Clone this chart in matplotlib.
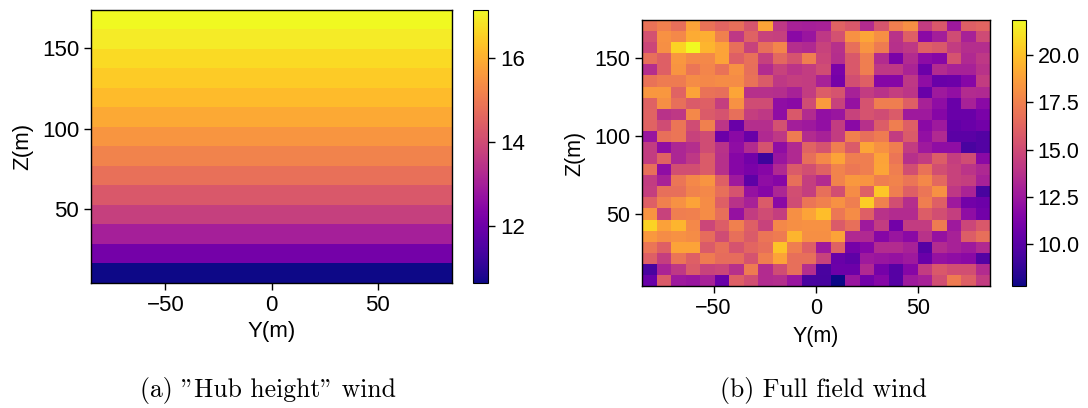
import numpy as np
import matplotlib
matplotlib.use("Agg")
import matplotlib.pyplot as plt

plt.rcParams['font.family'] = ['Liberation Sans', 'DejaVu Sans']

# (a) hub height profile, one value per height band, bottom -> top
hub_wind = [10.65, 12.1, 13.0, 13.75, 14.3, 14.8, 15.2, 15.55, 15.9, 16.2,
            16.45, 16.7, 16.95, 17.16]

# (b) full field, rows listed from top (z high) to bottom, 24 x 24 cells
full_wind_rows = [
    [16.9, 17.5, 16.7, 18.9, 16.9, 16.3, 16.7, 15.5, 19.0, 14.1, 13.0, 12.9, 13.0, 16.2, 15.7, 13.5, 15.5, 17.4, 18.1, 14.3, 15.7, 12.6, 16.0, 16.3],
    [15.3, 18.2, 17.8, 19.2, 19.3, 17.5, 14.1, 16.1, 14.6, 14.5, 11.8, 12.4, 14.1, 15.3, 18.2, 19.0, 18.1, 13.8, 16.0, 11.8, 12.8, 15.1, 13.0, 15.0],
    [14.8, 18.1, 20.6, 21.86, 19.6, 18.9, 16.7, 14.6, 16.7, 17.7, 13.6, 13.4, 14.6, 13.7, 16.7, 18.3, 17.3, 13.7, 14.1, 16.0, 15.7, 14.3, 13.6, 13.6],
    [16.7, 16.0, 18.4, 17.8, 17.8, 18.9, 16.0, 16.8, 14.5, 16.4, 15.4, 17.4, 14.8, 13.6, 15.7, 17.4, 13.5, 11.2, 13.5, 11.9, 11.6, 15.4, 13.4, 14.1],
    [13.6, 16.0, 18.3, 17.0, 17.7, 16.9, 18.2, 16.7, 13.5, 14.6, 13.9, 14.3, 15.1, 11.2, 15.7, 17.4, 14.1, 14.1, 13.1, 10.7, 13.5, 13.0, 13.0, 13.8],
    [16.9, 17.3, 17.3, 18.0, 17.8, 18.0, 18.0, 16.9, 15.8, 14.1, 14.4, 14.3, 13.0, 11.0, 15.2, 16.0, 11.6, 11.6, 14.1, 12.0, 10.6, 10.7, 11.6, 14.3],
    [18.4, 18.4, 16.2, 18.9, 16.9, 16.7, 19.0, 13.7, 13.7, 13.6, 13.0, 14.3, 15.9, 15.4, 13.0, 14.3, 13.8, 14.4, 14.0, 10.6, 12.6, 12.1, 13.5, 13.4],
    [16.1, 18.1, 16.7, 15.8, 16.0, 14.4, 18.2, 15.1, 15.1, 12.0, 11.8, 15.1, 18.6, 14.6, 12.2, 15.4, 17.4, 17.4, 16.0, 13.0, 12.0, 10.6, 13.0, 11.8],
    [16.2, 13.8, 14.1, 17.8, 15.8, 15.4, 16.7, 14.4, 14.1, 12.0, 15.7, 13.5, 12.1, 12.4, 14.6, 15.4, 15.1, 15.8, 12.6, 12.6, 11.6, 10.6, 10.6, 11.2],
    [16.2, 15.1, 17.0, 15.1, 17.5, 14.0, 10.6, 13.6, 13.6, 15.3, 12.8, 12.6, 12.1, 14.3, 11.8, 13.7, 15.9, 17.4, 16.0, 11.8, 12.6, 10.3, 10.6, 10.9],
    [12.4, 16.7, 17.0, 14.6, 15.1, 10.7, 11.8, 10.6, 13.4, 14.1, 17.3, 13.5, 13.0, 14.3, 17.5, 16.7, 17.3, 14.3, 15.8, 12.1, 13.4, 10.1, 10.1, 9.8],
    [14.3, 12.0, 13.2, 13.6, 15.1, 13.8, 12.0, 13.5, 15.4, 12.0, 13.4, 16.2, 15.4, 17.4, 15.8, 19.0, 18.2, 17.4, 14.3, 12.6, 12.0, 12.0, 9.5, 9.8],
    [14.3, 16.1, 13.2, 14.1, 15.8, 13.7, 11.6, 10.9, 9.1, 12.4, 13.4, 16.7, 17.8, 18.9, 17.4, 17.4, 18.9, 17.0, 13.7, 14.3, 15.9, 14.4, 15.1, 11.8],
    [16.7, 12.0, 15.2, 15.2, 15.8, 13.7, 11.6, 11.2, 11.6, 13.4, 15.8, 15.2, 16.1, 17.6, 17.1, 17.4, 19.0, 17.4, 15.2, 16.9, 15.2, 14.6, 13.9, 13.3],
    [14.3, 13.0, 17.0, 17.8, 18.3, 16.0, 12.6, 10.2, 12.0, 11.6, 16.7, 14.4, 13.5, 17.6, 18.5, 18.3, 17.4, 17.6, 17.0, 17.8, 16.4, 14.6, 14.4, 13.0],
    [14.4, 16.7, 16.7, 17.6, 17.8, 16.7, 15.4, 12.2, 11.6, 13.2, 15.2, 14.4, 16.7, 15.2, 18.0, 16.0, 20.2, 17.4, 16.0, 17.0, 18.2, 14.1, 13.1, 9.4],
    [16.0, 17.5, 18.2, 18.9, 18.0, 16.0, 13.8, 13.0, 15.8, 11.8, 15.1, 17.0, 17.5, 18.2, 17.4, 20.4, 17.5, 15.2, 13.6, 17.4, 16.0, 12.6, 10.9, 10.7],
    [18.3, 14.6, 17.4, 17.5, 18.0, 16.7, 12.2, 14.3, 15.1, 14.4, 18.1, 18.9, 19.9, 17.1, 18.0, 16.0, 13.8, 13.5, 13.5, 15.9, 15.2, 14.4, 12.0, 10.9],
    [20.6, 18.8, 19.6, 17.8, 14.8, 15.9, 17.5, 16.0, 14.6, 17.8, 18.1, 18.2, 18.2, 15.8, 16.7, 12.6, 14.3, 10.9, 14.3, 14.3, 17.3, 12.6, 14.8, 15.7],
    [18.5, 18.0, 18.2, 18.0, 16.6, 15.1, 16.7, 15.8, 17.0, 17.3, 19.6, 18.1, 18.1, 18.9, 13.4, 13.4, 11.6, 12.4, 11.8, 13.8, 12.2, 13.0, 15.9, 16.7],
    [17.0, 16.0, 18.9, 18.9, 15.8, 16.7, 15.4, 16.3, 16.7, 20.1, 17.4, 16.0, 12.6, 16.1, 11.0, 11.6, 13.5, 13.5, 13.0, 9.9, 13.5, 13.0, 12.6, 13.4],
    [16.0, 14.4, 17.0, 16.0, 17.3, 16.6, 16.6, 15.4, 17.4, 18.9, 16.7, 16.7, 14.6, 10.6, 10.2, 12.6, 12.4, 12.2, 12.6, 10.6, 12.2, 12.0, 11.8, 9.8],
    [9.5, 13.1, 14.1, 15.8, 14.6, 14.8, 13.7, 17.3, 13.5, 15.1, 16.7, 13.6, 9.5, 10.7, 10.7, 13.4, 11.0, 9.9, 11.6, 14.3, 15.7, 15.2, 15.2, 13.5],
    [10.6, 15.8, 12.6, 12.4, 13.0, 10.6, 16.0, 15.2, 13.5, 13.6, 12.4, 9.5, 9.4, 7.8, 12.4, 10.9, 11.6, 9.9, 12.6, 13.0, 15.2, 17.3, 16.0, 14.3],
]

# grid extent (m)
y_min, y_max = -85, 85
z_min, z_max = 4, 174

full_wind = np.flipud(np.array(full_wind_rows))
hub_field = np.array(hub_wind)[:, None]

W, H = 1088, 408
fig = plt.figure(figsize=(W / 100, H / 100), dpi=100)

def box(x0, y0, x1, y1):
    return [x0 / W, (H - y1) / H, (x1 - x0) / W, (y1 - y0) / H]

ax1 = fig.add_axes(box(91, 9.5, 452, 283))
cax1 = fig.add_axes(box(473, 9.5, 488, 283))
ax2 = fig.add_axes(box(642, 20, 990, 286))
cax2 = fig.add_axes(box(1012, 20, 1026, 286))

ye1 = np.linspace(y_min, y_max, 2)
ze1 = np.linspace(z_min, z_max, len(hub_wind) + 1)
m1 = ax1.pcolormesh(ye1, ze1, hub_field, cmap='plasma')

ye2 = np.linspace(y_min, y_max, full_wind.shape[1] + 1)
ze2 = np.linspace(z_min, z_max, full_wind.shape[0] + 1)
m2 = ax2.pcolormesh(ye2, ze2, full_wind, cmap='plasma')

cb1 = fig.colorbar(m1, cax=cax1)
cb1.set_ticks([12, 14, 16])
cb2 = fig.colorbar(m2, cax=cax2)
cb2.set_ticks([10.0, 12.5, 15.0, 17.5, 20.0])
cb2.ax.yaxis.set_major_formatter(matplotlib.ticker.FormatStrFormatter('%.1f'))

for ax, fs, pad in [(ax1, 16, 4), (ax2, 15.5, 5)]:
    ax.set_xticks([-50, 0, 50])
    ax.set_yticks([50, 100, 150])
    ax.tick_params(labelsize=fs, length=5, width=1)
    ax.set_xlabel('Y(m)', fontsize=fs, labelpad=pad)
    ax.set_ylabel('Z(m)', fontsize=fs, labelpad=6)
    for s in ax.spines.values():
        s.set_linewidth(1)
cb1.ax.tick_params(labelsize=16, length=5, width=1)
cb2.ax.tick_params(labelsize=15.5, length=5, width=1)

fig.text(268 / W, 1 - 390 / H, '(a) "Hub height" wind', family='cmr10',
         fontsize=18.5, ha='center', va='center')
fig.text(823 / W, 1 - 390 / H, '(b) Full field wind', family='cmr10',
         fontsize=18.5, ha='center', va='center')

fig.savefig('out.png', dpi=100)
